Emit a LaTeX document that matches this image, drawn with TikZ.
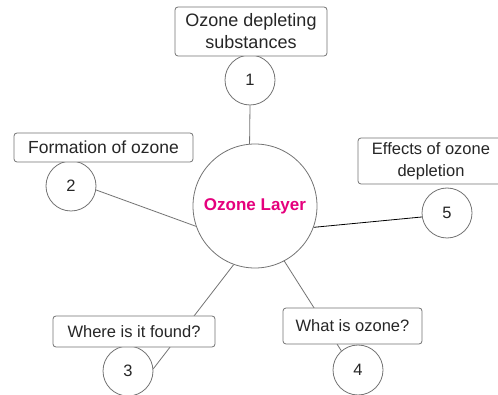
\documentclass[tikz,border=0pt]{standalone}
\usepackage{fontspec}
\setmainfont{Liberation Sans}
\usetikzlibrary{backgrounds}
\definecolor{ringgray}{rgb}{0.45,0.45,0.45}
\definecolor{hubpink}{rgb}{0.9,0,0.49}
\definecolor{txtgray}{rgb}{0.15,0.15,0.15}

\begin{document}
\begin{tikzpicture}[x=1pt,y=-1pt,line cap=round,line join=round,
    num/.style={circle,draw=ringgray,fill=white,line width=0.8pt,minimum size=50pt,inner sep=0pt,text=txtgray,font=\fontsize{16.5}{20}\selectfont},
    topic/.style={draw=ringgray,fill=white,rounded corners=3pt,line width=0.8pt,inner sep=0pt,align=center,text=txtgray,font=\fontsize{16.5}{22}\selectfont},
    spoke/.style={draw=ringgray,line width=0.8pt}]
    \useasboundingbox (0,0) rectangle (498,395);
    \clip (0,0) rectangle (498,395);
    % hub
    \node[circle,draw=ringgray,fill=white,line width=0.8pt,minimum size=124pt,inner sep=0pt,
      text=hubpink,font=\fontsize{17}{20}\selectfont\bfseries] (hub) at (255,206) {Ozone Layer};
    % numbered circles
    \node[num] (n1) at (250,80) {1};
    \node[num] (n2) at (71,186) {2};
    \node[num] (n3) at (128,371) {3};
    \node[num] (n4) at (358,370) {4};
    \node[num] (n5) at (447,213) {5};
    % topic boxes
    \node[topic,minimum width=152pt,minimum height=49pt,font=\fontsize{18}{22}\selectfont] (t1) at (251,31.5) {Ozone depleting\\substances};
    \node[topic,minimum width=179pt,minimum height=29pt,font=\fontsize{17.5}{22}\selectfont] (t2) at (103.5,147.5) {Formation of ozone};
    \node[topic,minimum width=162pt,minimum height=31pt] (t3) at (134,331.5) {Where is it found?};
    \node[topic,minimum width=139pt,minimum height=36pt] (t4) at (352.5,326) {What is ozone?};
    \node[topic,minimum width=146pt,minimum height=46pt] (t5) at (431,161) {Effects of ozone\\depletion};
    % spokes, kept under the boxes
    \begin{scope}[on background layer]
      \draw[spoke] (n1.south) -- (hub.95);
      \draw[spoke] (n2.-9) -- (hub.199);
      \draw[spoke] (n3.5) -- (hub.250);
      \draw[spoke] (n4.131) -- (hub.-62);
      \draw[spoke,draw=black] (n5.189) -- (hub.-20);
    \end{scope}
\end{tikzpicture}
\end{document}
